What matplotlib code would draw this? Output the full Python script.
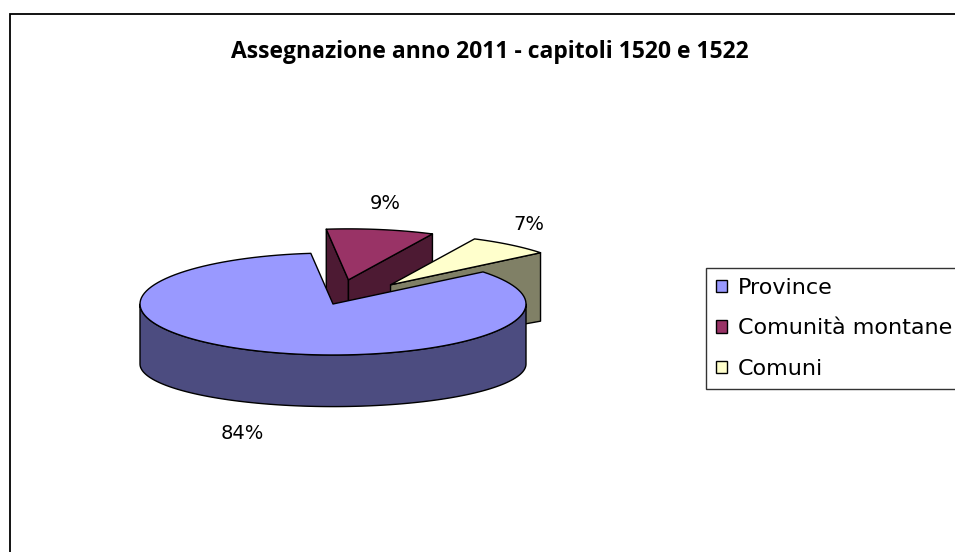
import numpy as np
import matplotlib.pyplot as plt
from matplotlib.patches import Polygon, Patch

# --- Data ---
labels = ["Province", "Comunità montane", "Comuni"]
values = [84, 9, 7]
explode = [0.0, 0.48, 0.48]
top_colors = ["#9999FF", "#993366", "#FFFFCC"]
side_colors = ["#4C4C80", "#4D1A33", "#808066"]
title = "Assegnazione anno 2011 - capitoli 1520 e 1522"

plt.rcParams['font.family'] = ['DejaVu Sans']

W, H = 955, 552
fig = plt.figure(figsize=(W / 100, H / 100), dpi=100)
ax = fig.add_axes([0, 0, 1, 1])
ax.set_xlim(0, W)
ax.set_ylim(H, 0)
ax.axis('off')

# chart area border (only left / top visible)
ax.plot([10, 10, W + 5], [H + 5, 14, 14], color="black", lw=1.3, solid_joinstyle="miter")

# --- 3D pie geometry (pixel units) ---
cx, cy, rx, ry = 333, 304, 193, 51
start = 51.0  # degrees clockwise from 12 o'clock


def depth(y):
    # back edges look taller than front ones (perspective)
    return 60 * (1 - 0.14 * (y - cy) / ry)


def arc(a0, a1, ox, oy, n=120):
    t = np.radians(np.linspace(a0, a1, n))
    return ox + rx * np.sin(t), oy - ry * np.cos(t)


fracs = np.array(values) / sum(values)
bounds = start + 360 * np.concatenate([[0], np.cumsum(fracs)])

slices = []
for i in range(len(values)):
    a0, a1 = bounds[i], bounds[i + 1]
    m = np.radians((a0 + a1) / 2)
    ox = cx + explode[i] * rx * np.sin(m)
    oy = cy - explode[i] * ry * np.cos(m)
    slices.append((oy, i, a0, a1, ox))

ec = dict(edgecolor="black", lw=1.0, joinstyle="round")
for oy, i, a0, a1, ox in sorted(slices):
    # radial walls facing the viewer
    for a, nrm in [(a0, a0 - 90), (a1, a1 + 90)]:
        if np.cos(np.radians(nrm)) < 0:
            px, py = arc(a, a, ox, oy, 1)
            pts = [(ox, oy), (px[0], py[0]), (px[0], py[0] + depth(py[0])), (ox, oy + depth(oy))]
            ax.add_patch(Polygon(pts, facecolor=side_colors[i], **ec))
    # outer wall, front half only
    for k in range(-1, 2):
        lo = max(a0, 90 + 360 * k)
        hi = min(a1, 270 + 360 * k)
        if hi > lo:
            xs, ys = arc(lo, hi, ox, oy)
            pts = list(zip(xs, ys)) + list(zip(xs[::-1], ys[::-1] + depth(ys[::-1])))
            ax.add_patch(Polygon(pts, facecolor=side_colors[i], **ec))
    # top face
    xs, ys = arc(a0, a1, ox, oy)
    pts = [(ox, oy)] + list(zip(xs, ys))
    ax.add_patch(Polygon(pts, facecolor=top_colors[i], **ec))

    # percentage label, just outside the rim
    m = (a0 + a1) / 2
    rxm, rym = arc(m, m, ox, oy, 1)
    lx = rxm[0] + 30 * np.sin(np.radians(m))
    ly = rym[0] - 26 * np.cos(np.radians(m))
    if np.cos(np.radians(m)) < 0:
        lx -= 6
        ly += depth(ly) + 10
    ax.text(lx, ly, f"{values[i]}%", fontsize=14, ha="center", va="center")

ax.text(490, 58, title, fontsize=16.5, fontweight="bold", ha="center", va="baseline",
        family="Open Sans")

handles = [Patch(facecolor=c, edgecolor="black", lw=1.0) for c in top_colors]
fig.legend(handles, labels, loc="upper left", bbox_to_anchor=(706 / W, 1 - 268 / H),
           borderaxespad=0, fontsize=16, frameon=True, fancybox=False, edgecolor="black",
           handlelength=0.5, handleheight=0.5, handletextpad=0.5, labelspacing=0.92,
           borderpad=0.45)

fig.savefig("out.png", dpi=100)
